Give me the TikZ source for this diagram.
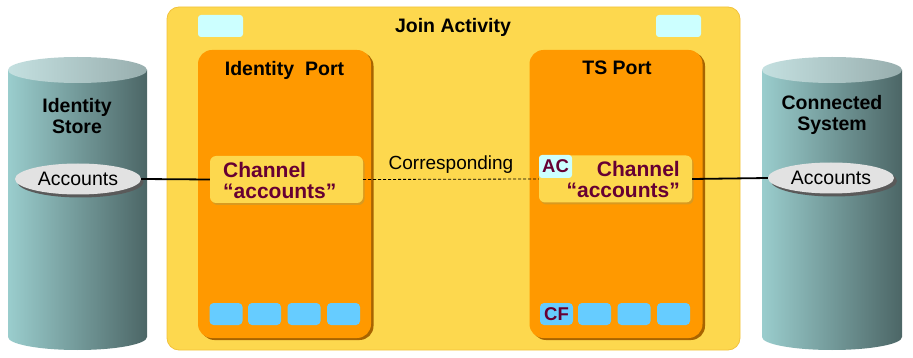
\documentclass[tikz,border=0pt]{standalone}
\usepackage{fontspec}
\setmainfont{Liberation Sans}
\usetikzlibrary{shapes.geometric}
\definecolor{joiny}{HTML}{FDD84E}
\definecolor{joinedge}{HTML}{F2C23C}
\definecolor{portor}{HTML}{FF9900}
\definecolor{portsh}{HTML}{A86400}
\definecolor{chsh}{HTML}{D89A20}
\definecolor{lcyan}{HTML}{CCFFFF}
\definecolor{bcyan}{HTML}{66CCFF}
\definecolor{maroon}{HTML}{660033}
\definecolor{cylL}{HTML}{9ACDCD}
\definecolor{cylR}{HTML}{4C6666}
\definecolor{topL}{HTML}{C4E0E0}
\definecolor{topR}{HTML}{98AEAE}
\definecolor{accfill}{HTML}{E2E2E2}
\definecolor{accsh}{HTML}{5A5A5A}
\tikzset{
  joinbox/.style={draw=joinedge, line width=0.8pt, fill=joiny, rounded corners=12pt, minimum width=573pt, minimum height=343pt, inner sep=0pt},
  portbox/.style={fill=portor, rounded corners=14pt, minimum width=173pt, minimum height=288pt, inner sep=0pt},
  portshadow/.style={fill=portsh, rounded corners=14pt, minimum width=173pt, minimum height=288pt, inner sep=0pt},
  chbox/.style={fill=joiny, rounded corners=6pt, minimum width=153pt, minimum height=47pt, inner sep=0pt},
  chshadow/.style={fill=chsh, rounded corners=6pt, minimum width=153pt, minimum height=47pt, inner sep=0pt},
  topcyan/.style={fill=lcyan, rounded corners=3pt, minimum width=45pt, minimum height=22pt, inner sep=0pt},
  smallbox/.style={fill=bcyan, rounded corners=4pt, minimum width=33pt, minimum height=22pt, inner sep=0pt},
  title/.style={font=\fontsize{19.5}{20.5}\selectfont\bfseries, text=black, inner sep=0pt},
  chtext/.style={font=\fontsize{21}{21}\selectfont\bfseries, text=maroon, inner sep=0pt},
  acctext/.style={font=\fontsize{19.5}{20}\selectfont, text=black},
  labtext/.style={font=\fontsize{18.5}{19}\selectfont\bfseries, text=maroon},
  accell/.style={ellipse, fill=accfill, minimum width=126pt, minimum height=31pt, inner sep=0pt},
  accshadow/.style={ellipse, fill=accsh, minimum width=126pt, minimum height=31pt, inner sep=0pt},
  conn/.style={line width=1.8pt, black},
  dconn/.style={line width=0.8pt, black, dash pattern=on 3pt off 2pt},
}
\begin{document}
\begin{tikzpicture}[x=1pt,y=-1pt]
\useasboundingbox (0,0) rectangle (913,358);
% Cylinders
\path[left color=cylL, right color=cylR] (8,70) -- (8,337) arc[start angle=180,end angle=360,x radius=69.5pt,y radius=13pt] -- (147,70) -- cycle;
\path[left color=topL, right color=topR] (77.5,70) ellipse [x radius=69.5pt, y radius=13pt];
\path[left color=cylL, right color=cylR] (762,70) -- (762,337) arc[start angle=180,end angle=360,x radius=70pt,y radius=13pt] -- (902,70) -- cycle;
\path[left color=topL, right color=topR] (832,70) ellipse [x radius=70pt, y radius=13pt];
\node[title, align=center] (idstore) at (77,116) {Identity\\Store};
\node[title, align=center] (consys) at (832,115) {Connected\\System};
\node[accshadow] at (80.5,182) {};
\node[accell, acctext] (accL) at (78,179) {Accounts};
\node[accshadow] at (834,181) {};
\node[accell, acctext] (accR) at (831,178) {Accounts};
% Join activity
\node[joinbox] (join) at (453.5,178.5) {};
\node[title] (jointitle) at (453,27) {Join Activity};
\node[topcyan] (tcL) at (220.5,26) {};
\node[topcyan] (tcR) at (678.5,26) {};
% Ports
\node[portshadow] at (287,196) {};
\node[portbox] (idport) at (284.5,194) {};
\node[title] (idporttitle) at (284.5,70) {Identity\hspace{11pt}Port};
\node[portshadow] at (618.5,196) {};
\node[portbox] (tsport) at (616,194) {};
\node[title] (tsporttitle) at (617,68) {TS Port};
% Channels
\node[chshadow] at (288,181.5) {};
\node[chbox] (chL) at (286.5,179.5) {};
\node[chtext, align=left, anchor=west] (chLtext) at (223,180) {Channel\\“accounts”};
\node[chshadow] at (617,181) {};
\node[chbox] (chR) at (615.5,179) {};
\node[chtext, align=right, anchor=east] (chRtext) at (680,179) {Channel\\“accounts”};
\node[fill=lcyan, rounded corners=3pt, minimum width=33pt, minimum height=23pt, inner sep=0pt, labtext] (ac) at (555.5,166.5) {AC};
% bottom small boxes
\node[smallbox] (bL1) at (226,314) {};
\node[smallbox] (bL2) at (264.5,314) {};
\node[smallbox] (bL3) at (304,314) {};
\node[smallbox] (bL4) at (343.5,314) {};
\node[smallbox, labtext] (bR1) at (556.5,314) {CF};
\node[smallbox] (bR2) at (594.5,314) {};
\node[smallbox] (bR3) at (634,314) {};
\node[smallbox] (bR4) at (673.5,314) {};
% connectors
\draw[conn] (accL.east) -- (chL.west);
\draw[dconn] (chL.east) -- node[above=2pt, acctext, font=\fontsize{19}{20}\selectfont] {Corresponding} (chR.west);
\draw[conn] (chR.east) -- (accR.west);
\end{tikzpicture}
\end{document}
